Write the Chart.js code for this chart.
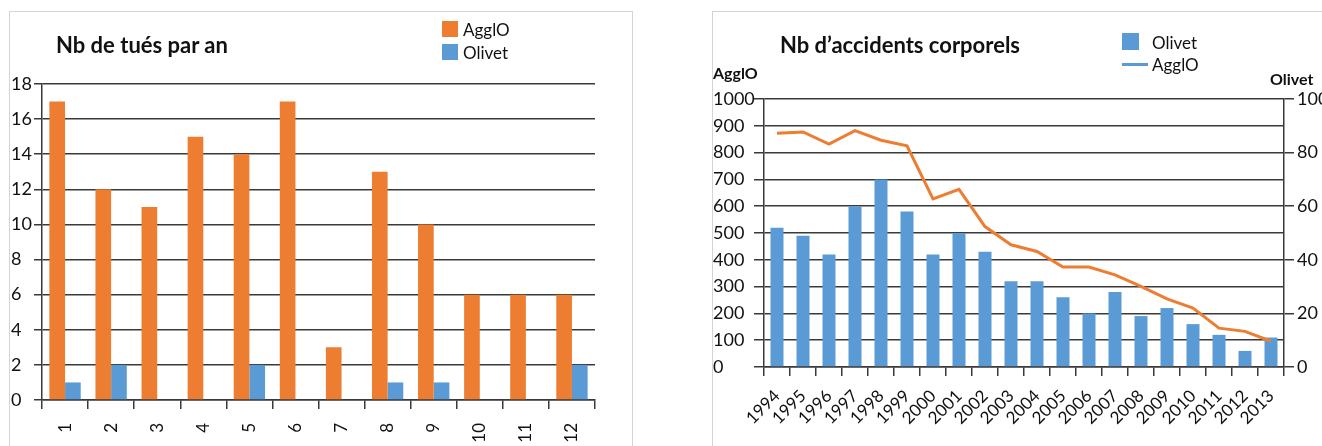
<!DOCTYPE html>
<html lang="fr">
<head>
<meta charset="utf-8">
<script src="https://cdn.jsdelivr.net/npm/chart.js@4.4.1/dist/chart.umd.min.js"></script>
<style>
  html, body { margin: 0; padding: 0; background: #fff; }
  body { width: 1322px; height: 446px; position: relative; overflow: hidden; font-family: Lato, "Noto Sans", sans-serif; color: #111; }
  .frame { position: absolute; border: 1px solid #d4d4d4; box-sizing: border-box; }
  .wrap { position: absolute; }
  .txt { position: absolute; white-space: nowrap; line-height: 1; }
  .title { font-weight: 700; font-size: 22px; }
  .axt { font-weight: 700; font-size: 16px; }
  .leg { font-size: 17px; }
  .sw { position: absolute; }
</style>
</head>
<body>
<div class="frame" style="left:9px; top:11px; width:624px; height:460px;"></div>
<div class="frame" style="left:712px; top:11px; width:640px; height:460px;"></div>

<div class="wrap" style="left:0; top:0; width:640px; height:446px;"><canvas id="killed"></canvas></div>
<div class="wrap" style="left:700px; top:0; width:622px; height:446px;"><canvas id="accidents"></canvas></div>

<!-- titles and legends -->
<div class="txt title" style="left:56px; top:34px;">Nb de tués par an</div>
<div class="sw" style="left:442px; top:21px; width:16px; height:16px; background:#ED7D31;"></div>
<div class="txt leg" style="left:463px; top:21px;">AgglO</div>
<div class="sw" style="left:442px; top:44px; width:16px; height:16px; background:#5B9BD5;"></div>
<div class="txt leg" style="left:463px; top:44px;">Olivet</div>

<div class="txt title" style="left:780px; top:34px;">Nb d’accidents corporels</div>
<div class="sw" style="left:1122px; top:33px; width:17px; height:17px; background:#5B9BD5;"></div>
<div class="txt leg" style="left:1152px; top:34px;">Olivet</div>
<div class="sw" style="left:1122px; top:63px; width:26px; height:3px; background:#5B9BD5;"></div>
<div class="txt leg" style="left:1152px; top:56px;">AgglO</div>
<div class="txt axt" style="left:713px; top:65px;">AgglO</div>
<div class="txt axt" style="left:1270px; top:71px;">Olivet</div>

<script>
// Nombre de tués par an
const killedCategories = ['1', '2', '3', '4', '5', '6', '7', '8', '9', '10', '11', '12'];
const killedAgglo = [17, 12, 11, 15, 14, 17, 3, 13, 10, 6, 6, 6];
const killedOlivet = [1, 2, 0, 0, 2, 0, 0, 1, 1, 0, 0, 2];

// Nombre d'accidents corporels
const years = ['1994', '1995', '1996', '1997', '1998', '1999', '2000', '2001', '2002', '2003',
               '2004', '2005', '2006', '2007', '2008', '2009', '2010', '2011', '2012', '2013'];
const accidentsOlivet = [52, 49, 42, 60, 70, 58, 42, 50, 43, 32, 32, 26, 20, 28, 19, 22, 16, 12, 6, 11];
const accidentsAgglo = [872, 877, 832, 882, 846, 825, 627, 663, 524, 456, 431, 373, 373, 344, 301, 254, 220, 145, 133, 96];

const ORANGE = '#ED7D31';
const BLUE = '#5B9BD5';
const GRID = '#3a3a3a';
const FONT = { family: 'Lato, "Noto Sans", sans-serif', size: 18 };
const TEXT = '#111';
const plain = (v) => String(v);

Chart.defaults.animation = false;
Chart.defaults.responsive = true;
Chart.defaults.maintainAspectRatio = false;
Chart.defaults.plugins.legend.display = false;
Chart.defaults.plugins.tooltip.enabled = false;

new Chart(document.getElementById('killed'), {
  type: 'bar',
  data: {
    labels: killedCategories,
    datasets: [
      { label: 'AgglO', data: killedAgglo, backgroundColor: ORANGE, categoryPercentage: 0.68, barPercentage: 1 },
      { label: 'Olivet', data: killedOlivet, backgroundColor: BLUE, categoryPercentage: 0.68, barPercentage: 1 }
    ]
  },
  options: {
    layout: { padding: { left: 11, right: 45, top: 84, bottom: 0 } },
    scales: {
      x: {
        grid: {
          offset: true,
          drawOnChartArea: true,
          color: (ctx) => ctx.index === killedCategories.length ? '#cfcfcf' : 'rgba(0,0,0,0)',
          tickColor: GRID, tickLength: 9, lineWidth: 1.5
        },
        border: { color: GRID, width: 1.5 },
        ticks: { color: TEXT, font: { ...FONT, size: 17 }, minRotation: 90, maxRotation: 90, autoSkip: false, padding: 14 },
        afterFit: (s) => { s.height = 46; }
      },
      y: {
        min: 0, max: 18,
        ticks: { stepSize: 2, color: TEXT, font: FONT, crossAlign: 'far', padding: 4, callback: plain },
        grid: { color: GRID, lineWidth: 1.5, tickLength: 8 },
        border: { color: GRID, width: 1.5 },
        afterFit: (s) => { s.width = 31; }
      }
    }
  }
});

new Chart(document.getElementById('accidents'), {
  type: 'bar',
  data: {
    labels: years,
    datasets: [
      { type: 'line', label: 'AgglO', data: accidentsAgglo, yAxisID: 'y', borderColor: ORANGE, borderWidth: 3,
        pointRadius: 0, tension: 0, order: 0 },
      { type: 'bar', label: 'Olivet', data: accidentsOlivet, yAxisID: 'y1', backgroundColor: BLUE,
        categoryPercentage: 1, barPercentage: 0.5, order: 1 }
    ]
  },
  options: {
    layout: { padding: { left: 13, right: 0, top: 99, bottom: 0 } },
    scales: {
      x: {
        grid: { offset: true, drawOnChartArea: false, tickColor: GRID, tickLength: 9, lineWidth: 1.5 },
        border: { color: GRID, width: 1.5 },
        ticks: { color: TEXT, font: { ...FONT, size: 17 }, minRotation: 45, maxRotation: 45, autoSkip: false, padding: 10 },
        afterFit: (s) => { s.height = 79; }
      },
      y: {
        position: 'left',
        min: 0, max: 1000,
        ticks: { stepSize: 100, color: TEXT, font: FONT, crossAlign: 'far', padding: 4, callback: plain },
        grid: { color: GRID, lineWidth: 1.5, tickLength: 10 },
        border: { color: GRID, width: 1.5 },
        afterFit: (s) => { s.width = 51; }
      },
      y1: {
        position: 'right',
        min: 0, max: 100,
        ticks: { stepSize: 20, color: TEXT, font: FONT, padding: 3, callback: plain },
        grid: { drawOnChartArea: false, color: GRID, lineWidth: 1.5, tickLength: 10 },
        border: { color: GRID, width: 1.5 },
        afterFit: (s) => { s.width = 38; }
      }
    }
  }
});
</script>
</body>
</html>
